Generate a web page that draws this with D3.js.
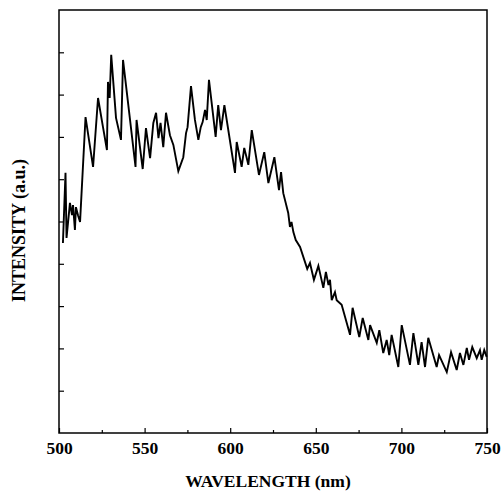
<!DOCTYPE html>
<html>
<head>
<meta charset="utf-8">
<script src="https://cdnjs.cloudflare.com/ajax/libs/d3/7.8.5/d3.min.js"></script>
<style>
  body { margin: 0; background: #fff; }
  svg text { font-family: "Liberation Serif", "Times New Roman", serif; font-weight: bold; }
</style>
</head>
<body>
<svg id="chart" width="503" height="492"></svg>
<script>

// (wavelength in nm, intensity in arbitrary units)
var wavelength = [
	502.3, 503.8, 504.4, 506.4, 507.6, 508.2, 509.3, 509.9, 511.1, 512.3,
	515.5, 519.9, 522.8, 525.7, 528.0, 528.6, 529.6, 530.5, 533.3, 536.2,
	537.4, 544.7, 545.3, 548.9, 550.8, 553.2, 555.1, 556.7, 558.1, 559.3,
	560.9, 562.5, 564.8, 566.8, 569.7, 572.6, 574.2, 575.1, 577.1, 579.4,
	581.4, 582.8, 583.9, 585.3, 586.3, 587.6, 591.5, 593.0, 594.6, 596.6,
	598.7, 602.8, 603.8, 606.7, 608.2, 610.6, 612.6, 616.8, 619.9, 622.3,
	625.8, 628.5, 629.7, 631.0, 633.9, 634.9, 635.8, 636.9, 638.3, 640.8,
	645.0, 646.6, 648.9, 651.5, 654.4, 655.9, 657.4, 658.3, 659.3, 661.2,
	662.2, 665.1, 670.0, 671.5, 675.4, 677.4, 680.7, 681.7, 685.6, 687.1,
	689.4, 691.4, 692.9, 694.3, 698.2, 700.2, 705.0, 707.0, 709.9, 711.8,
	713.8, 715.7, 720.6, 722.0, 726.5, 729.0, 732.3, 734.2, 736.2, 738.2,
	739.5, 741.4, 744.0, 745.9, 746.9, 748.4, 749.8
];

var intensity = [
	4.49, 6.15, 4.61, 5.44, 5.15, 5.39, 4.80, 5.34, 5.15, 4.99,
	7.47, 6.29, 7.92, 7.23, 6.69, 8.30, 7.92, 8.94, 7.45, 6.93,
	8.82, 6.29, 7.40, 6.24, 7.21, 6.50, 7.33, 7.57, 6.97, 7.33,
	6.76, 7.57, 7.04, 6.81, 6.19, 6.52, 7.09, 7.23, 8.20, 7.40,
	6.93, 7.23, 7.35, 7.64, 7.40, 8.35, 7.00, 7.75, 7.16, 7.75,
	7.21, 6.15, 6.88, 6.29, 6.74, 6.34, 7.16, 6.10, 6.64, 5.91,
	6.52, 5.74, 6.17, 5.67, 5.20, 4.87, 4.99, 4.75, 4.56, 4.40,
	3.88, 4.02, 3.62, 3.95, 3.43, 3.81, 3.50, 3.62, 3.14, 3.33,
	3.14, 3.03, 2.32, 2.96, 2.27, 2.72, 2.20, 2.55, 2.13, 2.43,
	1.89, 2.20, 1.84, 2.32, 1.56, 2.55, 1.61, 2.36, 1.61, 2.15,
	1.56, 2.25, 1.56, 1.84, 1.44, 1.91, 1.49, 1.89, 1.61, 2.01,
	1.73, 2.03, 1.77, 1.96, 1.73, 1.96, 1.80
];

var xMajorTicks = [500, 550, 600, 650, 700, 750];
var xMinorTicks = [525, 575, 625, 675, 725];
var yTicks = [1, 2, 3, 4, 5, 6, 7, 8, 9];

var xLabel = "WAVELENGTH (nm)";
var yLabel = "INTENSITY (a.u.)";

var margin = {top: 10, right: 16, bottom: 59, left: 59};
var svg = d3.select("#chart");
var w = +svg.attr("width") - margin.left - margin.right;
var h = +svg.attr("height") - margin.top - margin.bottom;

var xScale = d3.scaleLinear().domain([500, 750]).range([0, w]);
var yScale = d3.scaleLinear().domain([0, 10]).range([h, 0]);

var g = svg.append("g")
	.attr("transform", "translate(" + margin.left + "," + margin.top + ")");

var points = wavelength.map(function(d, i) { return [d, intensity[i]]; });

var line = d3.line()
	.x(function(d) { return xScale(d[0]); })
	.y(function(d) { return yScale(d[1]); });

g.append("path")
	.datum(points)
	.attr("d", line)
	.attr("fill", "none")
	.attr("stroke", "#000")
	.attr("stroke-width", 1.9)
	.attr("stroke-linejoin", "miter");

// minor ticks, no labels
g.append("g")
	.attr("transform", "translate(0," + h + ")")
	.call(d3.axisBottom(xScale).tickValues(xMinorTicks).tickSizeInner(-3).tickSizeOuter(0).tickFormat(""))
	.call(function(sel) { sel.select(".domain").remove(); });

var xAxis = g.append("g")
	.attr("transform", "translate(0," + h + ")")
	.call(d3.axisBottom(xScale).tickValues(xMajorTicks).tickSizeInner(-5).tickSizeOuter(0).tickPadding(9).tickFormat(d3.format("d")));
xAxis.select(".domain").remove();
xAxis.selectAll("text")
	.attr("font-size", 17.5)
	.attr("fill", "#000")
	.attr("font-family", "Liberation Serif")
	.attr("font-weight", "bold");

var yAxis = g.append("g")
	.call(d3.axisLeft(yScale).tickValues(yTicks).tickSizeInner(-5).tickSizeOuter(0).tickFormat(""));
yAxis.select(".domain").remove();

g.selectAll(".tick line").attr("stroke", "#000").attr("stroke-width", 1.2);

// frame
g.append("rect")
	.attr("x", 0)
	.attr("y", 0)
	.attr("width", w)
	.attr("height", h)
	.attr("fill", "none")
	.attr("stroke", "#000")
	.attr("stroke-width", 1.5);

svg.append("text")
	.attr("x", margin.left + w / 2 - 5)
	.attr("y", 487)
	.attr("text-anchor", "middle")
	.attr("font-size", 17.5)
	.text(xLabel);

svg.append("text")
	.attr("transform", "translate(25," + (margin.top + h / 2 + 9) + ") rotate(-90)")
	.attr("text-anchor", "middle")
	.attr("font-size", 18)
	.text(yLabel);

</script>
</body>
</html>
